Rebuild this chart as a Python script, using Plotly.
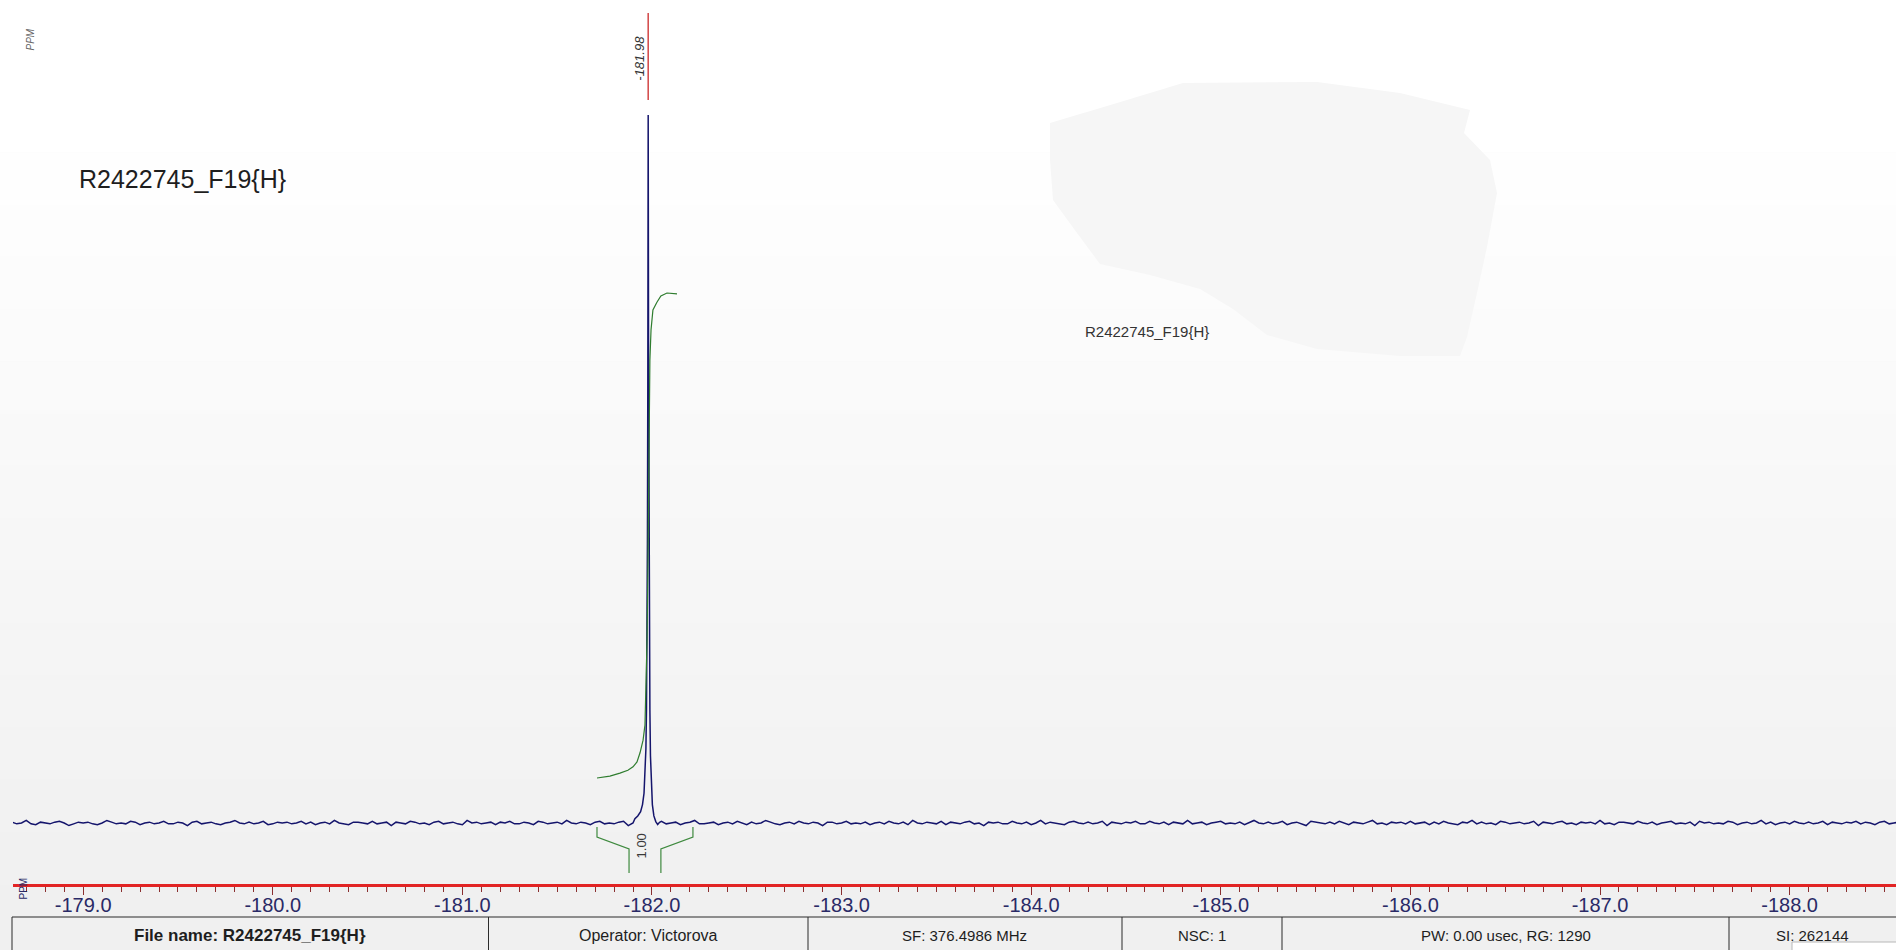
import numpy as np
import plotly.graph_objects as go

# ---------------------------------------------------------------- data ----
# 19F{1H} spectrum: baseline sampled every 0.025 ppm from -178.625 ppm,
# noise given in units of 0.1 (peak height = 100)
baseline_start_ppm = -178.625
baseline_step_ppm = 0.025
baseline_noise = [
    1, -1, 0, 3, -1, -2, 1, 0, -1, 1, 2, 0, -3, -1, 1, 0, 1, -1, -2, 0, 3, 1, -1, 0, -1, 2, 1, -2, 0, 1,
    -1, 0, 2, -1, -1, 1, 0, -3, 1, 2, -1, 0, 1, -1, -2, 0, 1, 3, 0, -1, 1, -1, 0, 2, -2, -1, 1, 0, 1, -1,
    0, 2, -1, 1, -2, 0, 1, -1, 3, 0, -1, -2, 1, 1, 0, -1, 2, -1, 0, 1, -3, 1, 0, -1, 2, 1, -1, 0, -2, 1,
    2, -1, 0, 1, -1, -2, 3, 0, 1, -1, 0, 1, -2, 1, 0, 2, -1, -1, 1, 0, -2, 2, 1, -1, 0, 1, -1, 3, 0, -1,
    1, 0, -2, 1, 2, -1, 0, -1, 1, 2, -3, 0, 1, -1, 1, 0, -1, 2, -1, 0, 1, -2, 0, 1, 3, -1, -1, 0, 1, -2,
    0, 1, -1, 2, 0, -2, 1, -1, 0, 3, 1, -1, -2, 0, 1, -1, 2, 0, -1, 1, 0, -3, 1, 1, -1, 0, 2, -1, 0, -1,
    1, -2, 0, 1, -1, 2, 0, -1, 1, -2, 3, 0, -1, 1, 0, -1, 2, -2, 1, 0, -1, 1, 2, -1, 0, -3, 1, 0, 1, -1,
    -1, 2, 0, -1, 1, -2, 0, 3, -1, 1, 0, -1, -2, 1, 2, 0, -1, 1, -1, 0, 2, -3, 1, 0, -1, 1, 0, 2, -1, -1,
    2, 0, -1, 1, -2, 1, 0, -1, 3, -1, 0, 1, -2, 0, 1, 2, -1, 0, -1, 1, -2, 1, 3, 0, -1, 1, -1, 0, 2, -2,
    0, 1, -1, -3, 2, 1, 0, -1, 1, -1, 2, 0, -2, 1, 0, -1, 1, 3, -1, 0, -2, 1, 0, 1, -1, 2, -1, 0, 1, -2,
    1, -1, 2, 0, -1, -2, 1, 0, 3, -1, 1, -1, 0, -2, 2, 1, -1, 0, 1, -1, 0, 2, -3, 1, 0, -1, 1, 2, -1, 0,
    -2, 1, 0, 1, -1, 3, -1, 0, -2, 1, 1, 0, -1, 2, 0, -1, 1, -2, 0, 1, 2, -1, 0, -1, 1, -3, 2, 0, 1, -1,
    0, -1, 2, 1, -2, 0, 1, -1, 0, 3, -1, 1, -2, 0, 1, -1, 2, 0, -1, 1, -1, 0, 2, -2, 1, 0, -1, 1, 0, 2,
    -1, 1, 0, -2, 1, 2, -1, 0, 1, -1,
]

# the single fluorine resonance
peak_ppm_points = [
    -181.910, -181.925, -181.940, -181.950, -181.958, -181.964, -181.968, -181.971,
    -181.974, -181.976, -181.978, -181.979, -181.980, -181.981, -181.982, -181.984,
    -181.986, -181.989, -181.992, -181.996, -182.002, -182.010, -182.020, -182.030, -182.040,
]
peak_intensity = [
    0.6, 1.0, 1.6, 2.6, 4.2, 7.0, 10.5, 16.0,
    26.0, 40.0, 62.0, 80.0, 100.0, 82.0, 64.0, 42.0,
    27.0, 16.0, 9.5, 5.2, 2.6, 1.0, 0.2, -0.2, 0.1,
]
peak_label_ppm = -181.98

# running integral over the peak (normalised to 1.00)
integral_ppm = [
    -181.710, -181.778, -181.831, -181.873, -181.900, -181.921, -181.937, -181.953,
    -181.963, -181.974, -181.979, -181.984, -181.989, -181.995, -182.005, -182.026,
    -182.047, -182.079, -182.132,
]
integral_curve = [
    0.000, 0.004, 0.010, 0.016, 0.023, 0.033, 0.052, 0.078,
    0.109, 0.285, 0.450, 0.676, 0.862, 0.924, 0.965, 0.981,
    0.994, 1.000, 0.998,
]
integral_region = [-181.710, -182.216]
integral_value = 1.00

axis_ticks = [-179.0, -180.0, -181.0, -182.0, -183.0, -184.0, -185.0, -186.0, -187.0, -188.0]
axis_tick_text = ["-179.0", "-180.0", "-181.0", "-182.0", "-183.0",
                  "-184.0", "-185.0", "-186.0", "-187.0", "-188.0"]

spectrum_title = "R2422745_F19{H}"
info_cells = [
    "File name: R2422745_F19{H}",
    "Operator: Victorova",
    "SF: 376.4986 MHz",
    "NSC: 1",
    "PW: 0.00 usec, RG: 1290",
    "SI: 262144",
]

# ------------------------------------------------------ build spectrum ----
noise = np.array(baseline_noise, dtype=float) * 0.12
grid_ppm = baseline_start_ppm - baseline_step_ppm * np.arange(len(noise))
outside_peak = (grid_ppm > max(peak_ppm_points)) | (grid_ppm < min(peak_ppm_points))
spec_x = np.concatenate([grid_ppm[outside_peak], np.array(peak_ppm_points)])
spec_y = np.concatenate([noise[outside_peak], np.array(peak_intensity)])
order = np.argsort(-spec_x)
spec_x, spec_y = spec_x[order], spec_y[order]

# ------------------------------------------------------------- geometry ----
W, H = 1896, 950
M_L, M_B = 13, 66
PLOT_W, PLOT_H = W - M_L, H - M_B
X_LEFT, X_RIGHT = -178.630, -188.561


def px(x):
    return (x - M_L) / PLOT_W


def py(y):
    return (PLOT_H - y) / PLOT_H


FONT = "Arial, Liberation Sans, sans-serif"

fig = go.Figure()
fig.add_trace(go.Scatter(
    x=spec_x, y=spec_y, mode="lines",
    line=dict(color="#15156c", width=1.5),
    hoverinfo="skip", showlegend=False,
))
fig.add_trace(go.Scatter(
    x=integral_ppm, y=integral_curve, mode="lines", yaxis="y2",
    line=dict(color="#2f7d2f", width=1.2),
    hoverinfo="skip", showlegend=False,
))

shapes = []
# soft vertical background gradient (white at top, light grey at the axis)
top_px, bottom_px = 100, PLOT_H
levels = list(range(255, 240, -1))
band = (bottom_px - top_px) / len(levels)
shapes.append(dict(type="rect", xref="paper", yref="paper", x0=px(0), x1=px(W),
                   y0=py(top_px), y1=py(0), fillcolor="#ffffff", line_width=0, layer="below"))
for i, g in enumerate(levels):
    shapes.append(dict(type="rect", xref="paper", yref="paper",
                       x0=px(0), x1=px(W),
                       y0=py(top_px + (i + 1) * band + 0.5), y1=py(top_px + i * band),
                       fillcolor=f"rgb({g},{g},{g})", line_width=0, layer="below"))

# faint grey patch in the upper right
patch = [(1050, 123), (1117, 103), (1183, 83), (1317, 82), (1400, 93), (1470, 110),
         (1464, 133), (1490, 160), (1497, 193), (1487, 247), (1477, 293), (1467, 337),
         (1460, 356), (1400, 356), (1317, 349), (1267, 335), (1233, 309), (1200, 289),
         (1150, 275), (1100, 264), (1077, 233), (1053, 200), (1050, 160)]
path = "M " + " L ".join(f"{px(a):.5f},{py(b):.5f}" for a, b in patch) + " Z"
shapes.append(dict(type="path", xref="paper", yref="paper", path=path,
                   fillcolor="#f6f6f6", line_width=0, layer="below"))

# peak pick marker
shapes.append(dict(type="line", xref="x", yref="paper",
                   x0=peak_label_ppm, x1=peak_label_ppm, y0=py(100), y1=py(13),
                   line=dict(color="#d24545", width=1.5)))

# integration bracket below the baseline
i0, i1 = integral_region
mid = 0.5 * (i0 + i1)
neck = 0.084
bracket = (f"M {i0},{py(827)} L {i0},{py(837)} L {mid + neck},{py(849)} L {mid + neck},{py(873)} "
           f"M {i1},{py(827)} L {i1},{py(837)} L {mid - neck},{py(849)} L {mid - neck},{py(873)}")
shapes.append(dict(type="path", xref="x", yref="paper", path=bracket,
                   line=dict(color="#3f8a3f", width=1.2)))

# info table below the axis
cell_edges = [12, 488.5, 808, 1122, 1282, 1729, 1910]
shapes.append(dict(type="rect", xref="paper", yref="paper",
                   x0=px(cell_edges[0]), x1=px(cell_edges[-1]), y0=py(917), y1=py(965),
                   fillcolor="#f0f0f0", line=dict(color="#2b2b2b", width=1)))
for e in cell_edges[1:-1]:
    shapes.append(dict(type="line", xref="paper", yref="paper",
                       x0=px(e), x1=px(e), y0=py(917), y1=py(965),
                       line=dict(color="#2b2b2b", width=1)))
shapes.append(dict(type="rect", xref="paper", yref="paper",
                   x0=px(1792), x1=px(1910), y0=py(942), y1=py(970),
                   fillcolor="#ffffff", line=dict(color="#b8b8b8", width=1)))

annotations = []
annotations.append(dict(text=spectrum_title, xref="paper", yref="paper",
                        x=px(77), y=py(179), xanchor="left", yanchor="middle",
                        showarrow=False, font=dict(family=FONT, size=25, color="#1e1e1e")))
annotations.append(dict(text=spectrum_title, xref="paper", yref="paper",
                        x=px(1083), y=py(331), xanchor="left", yanchor="middle",
                        showarrow=False, font=dict(family=FONT, size=15, color="#333333")))
annotations.append(dict(text="PPM", xref="paper", yref="paper", x=px(22), y=py(27),
                        textangle=-90, showarrow=False,
                        font=dict(family=FONT, size=10, color="#666666", style="italic")))
annotations.append(dict(text=f"{peak_label_ppm:.2f}", xref="x", yref="paper",
                        x=peak_label_ppm, xshift=-9, y=py(34), textangle=-90, showarrow=False,
                        font=dict(family=FONT, size=13, color="#333333", style="italic")))
annotations.append(dict(text=f"{integral_value:.2f}", xref="x", yref="paper",
                        x=mid, xshift=-3, y=py(860), textangle=-90, showarrow=False,
                        font=dict(family=FONT, size=13, color="#3a3a3a")))
annotations.append(dict(text="PPM", xref="paper", yref="paper", x=px(16), y=py(902),
                        textangle=-90, showarrow=False,
                        font=dict(family=FONT, size=10, color="#2a2a66")))
centers = [0.5 * (cell_edges[i] + cell_edges[i + 1]) for i in range(len(cell_edges) - 2)] + [1812]
cell_sizes = [17, 16, 15, 15, 15, 15]
for i, (txt, cx) in enumerate(zip(info_cells, centers)):
    annotations.append(dict(text=f"<b>{txt}</b>" if i == 0 else txt,
                            xref="paper", yref="paper", x=px(cx), y=py(935),
                            xanchor="center", yanchor="middle", showarrow=False,
                            font=dict(family=FONT, size=cell_sizes[i], color="#1e1e1e")))

# y ranges: baseline at 823 px, peak top at 115 px; integral 0 at 778 px, 1 at 293 px
y_scale = (823 - 115) / 100.0
y_range = [-(PLOT_H - 823) / y_scale, 100 + 115 / y_scale]
i_scale = (778 - 293) / 1.0
i_range = [-(PLOT_H - 778) / i_scale, 1 + 293 / i_scale]

fig.update_layout(
    width=W, height=H,
    margin=dict(l=M_L, r=0, t=0, b=M_B, pad=0),
    paper_bgcolor="#f0f0f0",
    plot_bgcolor="rgba(0,0,0,0)",
    showlegend=False,
    hovermode=False,
    shapes=shapes,
    annotations=annotations,
    xaxis=dict(
        range=[X_LEFT, X_RIGHT],
        tickmode="array", tickvals=axis_ticks, ticktext=axis_tick_text,
        showline=True, linecolor="#e22424", linewidth=3,
        ticks="outside", ticklen=8, tickwidth=1, tickcolor="#8a3030",
        ticklabelstandoff=-7,
        tickfont=dict(family=FONT, size=20, color="#2a2a66"),
        showgrid=False, zeroline=False, fixedrange=True,
        minor=dict(ticks="outside", ticklen=5, tickwidth=1, tickcolor="#8a3030",
                   dtick=0.1, tick0=-179.0, showgrid=False),
    ),
    yaxis=dict(range=y_range, visible=False, fixedrange=True),
    yaxis2=dict(range=i_range, visible=False, overlaying="y", fixedrange=True),
)

fig.write_html("out.html", config={"displayModeBar": False})
